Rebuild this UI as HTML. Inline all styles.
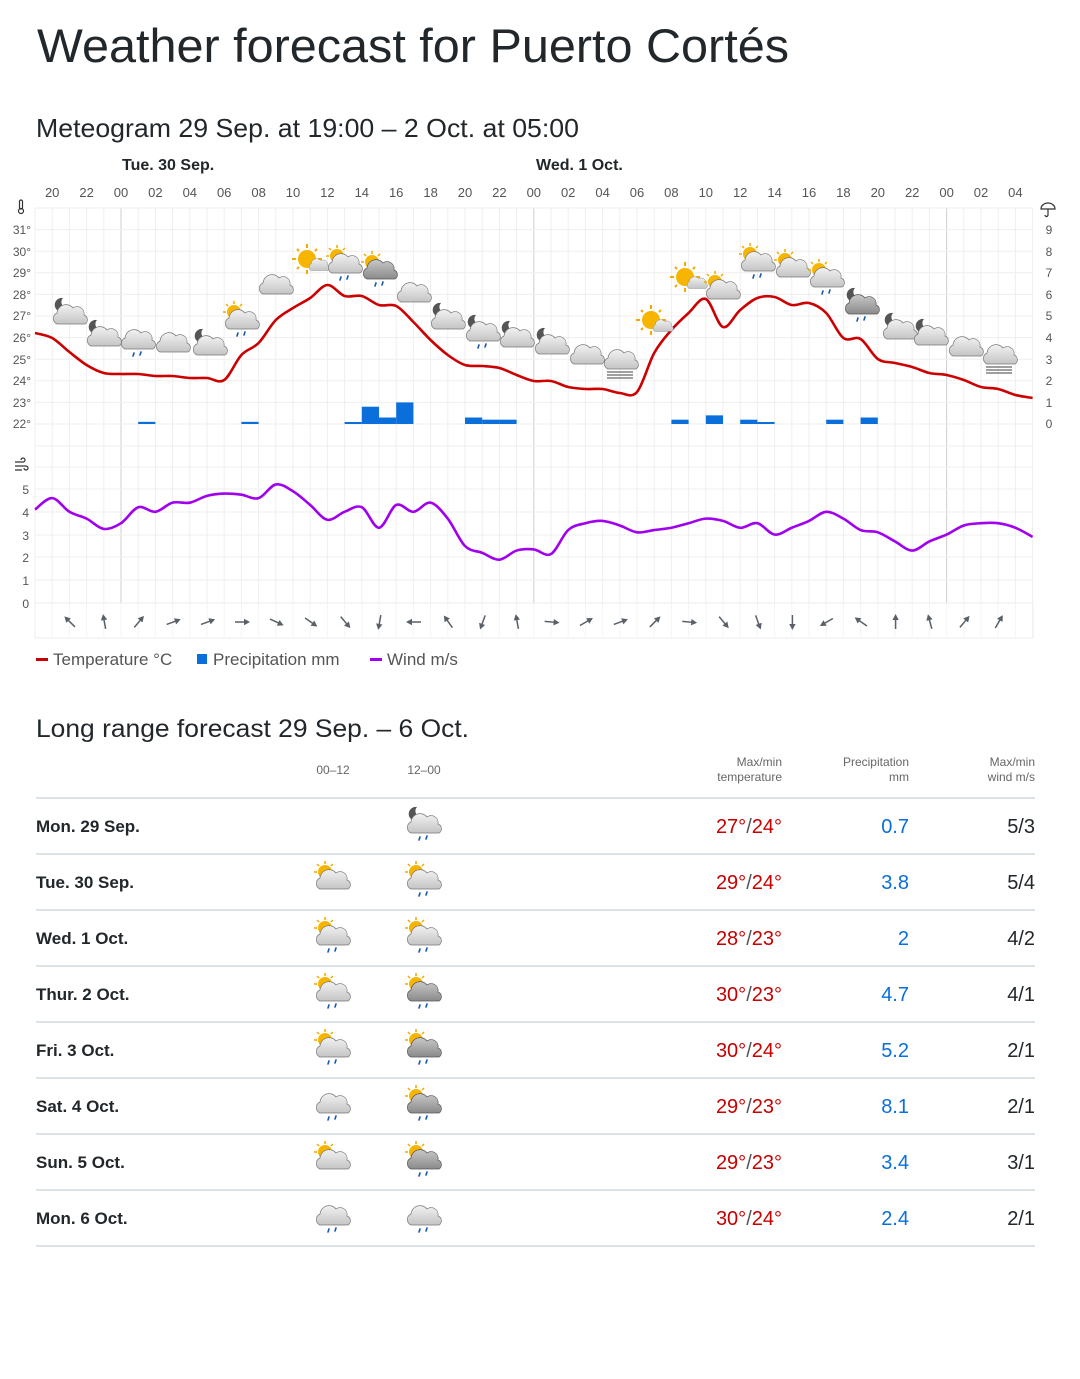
<!DOCTYPE html>
<html><head><meta charset="utf-8"><style>
html,body{margin:0;padding:0;background:#fff;}
svg{display:block;font-family:"Liberation Sans",sans-serif;}
</style></head><body>
<svg id="s" width="1080" height="1379" viewBox="0 0 1080 1379" xmlns="http://www.w3.org/2000/svg">
<defs>
<linearGradient id="cg" x1="0" y1="0" x2="0" y2="1"><stop offset="0" stop-color="#f2f2f2"/><stop offset="1" stop-color="#c4c4c4"/></linearGradient>
<linearGradient id="cgd" x1="0" y1="0" x2="0" y2="1"><stop offset="0" stop-color="#c8c8c8"/><stop offset="1" stop-color="#8a8a8a"/></linearGradient>
<g id="cl"><path d="M-13,9 a6,6 0 0 1 0,-11 a9,9 0 0 1 16,-5 a7,7 0 0 1 11,7 a5,5 0 0 1 1,9 z" fill="url(#cg)" stroke="#777" stroke-width="0.7"/></g>
<g id="cld"><path d="M-13,9 a6,6 0 0 1 0,-11 a9,9 0 0 1 16,-5 a7,7 0 0 1 11,7 a5,5 0 0 1 1,9 z" fill="url(#cgd)" stroke="#555" stroke-width="0.7"/></g>
<g id="sun"><circle r="7" fill="#f7b500"/><g stroke="#f2a900" stroke-width="1.5"><line x1="0" y1="-11" x2="0" y2="-8"/><line x1="-8" y1="-8" x2="-6" y2="-6"/><line x1="8" y1="-8" x2="6" y2="-6"/><line x1="-11" y1="0" x2="-8" y2="0"/></g></g>
<g id="bsun"><circle r="9" fill="#f7b500"/><g stroke="#f2a900" stroke-width="2"><line x1="0" y1="-15" x2="0" y2="-11"/><line x1="0" y1="15" x2="0" y2="11"/><line x1="-15" y1="0" x2="-11" y2="0"/><line x1="15" y1="0" x2="11" y2="0"/><line x1="-10" y1="-10" x2="-8" y2="-8"/><line x1="10" y1="-10" x2="8" y2="-8"/><line x1="-10" y1="10" x2="-8" y2="8"/><line x1="10" y1="10" x2="8" y2="8"/></g></g>
<g id="moon"><path d="M2,-8 a7,7 0 1 0 5,10 a6,6 0 0 1 -5,-10z" fill="#555"/></g>
<g id="rain" stroke="#1a55b0" stroke-width="1.6" stroke-linecap="round"><line x1="-4" y1="13" x2="-5" y2="16"/><line x1="3" y1="12" x2="2" y2="15"/></g>
<g id="fog" stroke="#666" stroke-width="1.2"><line x1="-14" y1="12" x2="12" y2="12"/><line x1="-14" y1="15" x2="12" y2="15"/><line x1="-14" y1="18" x2="12" y2="18"/></g>
<g id="arr"><line x1="0" y1="7" x2="0" y2="-5" stroke="#5a6068" stroke-width="1.5"/><path d="M0,-8 L-3.2,-2 L3.2,-2z" fill="#5a6068"/></g>
</defs>

<text x="37" y="62" font-size="47" fill="#21272b" textLength="752" lengthAdjust="spacingAndGlyphs">Weather forecast for Puerto Cortés</text>
<text x="36" y="137" font-size="26" fill="#21272b" textLength="543" lengthAdjust="spacingAndGlyphs">Meteogram 29 Sep. at 19:00 – 2 Oct. at 05:00</text>

<text x="122" y="170" font-size="16" font-weight="bold" fill="#21272b">Tue. 30 Sep.</text>
<text x="536" y="170" font-size="16" font-weight="bold" fill="#21272b">Wed. 1 Oct.</text>

<g id="grid"></g>

<g font-size="13" fill="#555" text-anchor="middle">
<text x="52.2" y="197">20</text><text x="86.6" y="197">22</text><text x="121" y="197">00</text><text x="155.4" y="197">02</text><text x="189.8" y="197">04</text><text x="224.2" y="197">06</text><text x="258.6" y="197">08</text><text x="293" y="197">10</text><text x="327.4" y="197">12</text><text x="361.8" y="197">14</text><text x="396.2" y="197">16</text><text x="430.6" y="197">18</text><text x="465" y="197">20</text><text x="499.4" y="197">22</text><text x="533.8" y="197">00</text><text x="568.2" y="197">02</text><text x="602.6" y="197">04</text><text x="637" y="197">06</text><text x="671.4" y="197">08</text><text x="705.8" y="197">10</text><text x="740.2" y="197">12</text><text x="774.6" y="197">14</text><text x="809" y="197">16</text><text x="843.4" y="197">18</text><text x="877.8" y="197">20</text><text x="912.2" y="197">22</text><text x="946.6" y="197">00</text><text x="981" y="197">02</text><text x="1015.4" y="197">04</text>
</g>
<g font-size="12" fill="#555" text-anchor="end">
<text x="31" y="234">31°</text><text x="31" y="256">30°</text><text x="31" y="277">29°</text><text x="31" y="299">28°</text><text x="31" y="320">27°</text><text x="31" y="342">26°</text><text x="31" y="364">25°</text><text x="31" y="385">24°</text><text x="31" y="407">23°</text><text x="31" y="428">22°</text>
<text x="29" y="494">5</text><text x="29" y="517">4</text><text x="29" y="540">3</text><text x="29" y="562">2</text><text x="29" y="585">1</text><text x="29" y="608">0</text>
</g>
<g font-size="12" fill="#555" text-anchor="middle">
<text x="1049" y="234">9</text><text x="1049" y="256">8</text><text x="1049" y="277">7</text><text x="1049" y="299">6</text><text x="1049" y="320">5</text><text x="1049" y="342">4</text><text x="1049" y="364">3</text><text x="1049" y="385">2</text><text x="1049" y="407">1</text><text x="1049" y="428">0</text>
</g>
<g stroke="#333" fill="none" stroke-width="1.2">
<rect x="19.5" y="200" width="3" height="9" rx="1.5"/><circle cx="21" cy="211" r="2.5"/>
<path d="M1041,209 a7,6 0 0 1 14,0 z M1048,209 v6 a1.5,1.5 0 0 1 -3,0"/>
<path d="M15,462 h8 a2,2 0 1 0 -2,-2 M15,466 h11 a2,2 0 1 1 -2,2 M15,470 h7"/>
</g>

<g id="series"></g>

<rect x="36" y="658" width="12" height="3" fill="#c60000"/>
<text x="53" y="665" font-size="17" fill="#555">Temperature °C</text>
<rect x="197" y="654" width="10" height="10" fill="#0a6edb"/>
<text x="213" y="665" font-size="17" fill="#555">Precipitation mm</text>
<rect x="370" y="658" width="12" height="3" fill="#a000ee"/>
<text x="387" y="665" font-size="17" fill="#555">Wind m/s</text>

<text x="36" y="737" font-size="25" fill="#21272b" textLength="433" lengthAdjust="spacingAndGlyphs">Long range forecast 29 Sep. – 6 Oct.</text>
<g font-size="12" fill="#666">
<text x="333" y="774" text-anchor="middle">00–12</text>
<text x="424" y="774" text-anchor="middle">12–00</text>
<text x="782" y="766" text-anchor="end">Max/min</text><text x="782" y="781" text-anchor="end">temperature</text>
<text x="909" y="766" text-anchor="end">Precipitation</text><text x="909" y="781" text-anchor="end">mm</text>
<text x="1035" y="766" text-anchor="end">Max/min</text><text x="1035" y="781" text-anchor="end">wind m/s</text>
</g>
<g stroke="#dde2e6" stroke-width="2">
<line x1="36" y1="798" x2="1035" y2="798"/><line x1="36" y1="854" x2="1035" y2="854"/><line x1="36" y1="910" x2="1035" y2="910"/><line x1="36" y1="966" x2="1035" y2="966"/><line x1="36" y1="1022" x2="1035" y2="1022"/><line x1="36" y1="1078" x2="1035" y2="1078"/><line x1="36" y1="1134" x2="1035" y2="1134"/><line x1="36" y1="1190" x2="1035" y2="1190"/><line x1="36" y1="1246" x2="1035" y2="1246"/>
</g>
<g font-size="17" font-weight="bold" fill="#21272b">
<text x="36" y="832">Mon. 29 Sep.</text><text x="36" y="888">Tue. 30 Sep.</text><text x="36" y="944">Wed. 1 Oct.</text><text x="36" y="1000">Thur. 2 Oct.</text><text x="36" y="1056">Fri. 3 Oct.</text><text x="36" y="1112">Sat. 4 Oct.</text><text x="36" y="1168">Sun. 5 Oct.</text><text x="36" y="1224">Mon. 6 Oct.</text>
</g>
<g font-size="20" text-anchor="end">
<g fill="#c60000">
<text x="782" y="833">27°<tspan fill="#555">/</tspan>24°</text><text x="782" y="889">29°<tspan fill="#555">/</tspan>24°</text><text x="782" y="945">28°<tspan fill="#555">/</tspan>23°</text><text x="782" y="1001">30°<tspan fill="#555">/</tspan>23°</text><text x="782" y="1057">30°<tspan fill="#555">/</tspan>24°</text><text x="782" y="1113">29°<tspan fill="#555">/</tspan>23°</text><text x="782" y="1169">29°<tspan fill="#555">/</tspan>23°</text><text x="782" y="1225">30°<tspan fill="#555">/</tspan>24°</text>
</g>
<g fill="#0a6edb">
<text x="909" y="833">0.7</text><text x="909" y="889">3.8</text><text x="909" y="945">2</text><text x="909" y="1001">4.7</text><text x="909" y="1057">5.2</text><text x="909" y="1113">8.1</text><text x="909" y="1169">3.4</text><text x="909" y="1225">2.4</text>
</g>
<g fill="#21272b">
<text x="1035" y="833">5/3</text><text x="1035" y="889">5/4</text><text x="1035" y="945">4/2</text><text x="1035" y="1001">4/1</text><text x="1035" y="1057">2/1</text><text x="1035" y="1113">2/1</text><text x="1035" y="1169">3/1</text><text x="1035" y="1225">2/1</text>
</g>
</g>
<g id="ticons"></g>
</svg>
<script>
var NS="http://www.w3.org/2000/svg";
function el(p,t,a){var e=document.createElementNS(NS,t);for(var k in a)e.setAttribute(k,a[k]);p.appendChild(e);return e;}
function X(t){return 35+17.2*t;}
var g=document.getElementById('grid');
for(var t=0;t<=58;t++){var day=(t==5||t==29||t==53);
 el(g,'line',{x1:X(t),y1:208,x2:X(t),y2:603,stroke:day?'#cfcfcf':'#efefef','stroke-width':1});
 el(g,'line',{x1:X(t),y1:603,x2:X(t),y2:638,stroke:'#f5f5f5','stroke-width':1});}
for(var i=0;i<=10;i++){var y=208+i*21.6;el(g,'line',{x1:35,y1:y,x2:1033,y2:y,stroke:'#efefef'});}
el(g,'line',{x1:35,y1:446,x2:1033,y2:446,stroke:'#efefef'});
[467,489,512,535,557,580,603].forEach(function(y){el(g,'line',{x1:35,y1:y,x2:1033,y2:y,stroke:'#efefef'});});
el(g,'rect',{x:35,y:603,width:998,height:35,fill:'none',stroke:'#eee'});
var s=document.getElementById('series');
var P=[[6,0.1],[12,0.1],[18,0.05],[19,0.8],[20,0.3],[21,1.0],[25,0.3],[26,0.2],[27,0.2],[37,0.2],[39,0.4],[41,0.2],[42,0.05],[46,0.2],[48,0.3]];
P.forEach(function(p){var h=Math.max(2,p[1]*21.6);el(s,'rect',{x:X(p[0]),y:424-h,width:17.2,height:h,fill:'#0a6edb'});});
function spline(pts){var d='M'+pts[0][0]+','+pts[0][1];for(var i=0;i<pts.length-1;i++){var p0=pts[i-1]||pts[i],p1=pts[i],p2=pts[i+1],p3=pts[i+2]||p2;
 d+=' C'+(p1[0]+(p2[0]-p0[0])/6)+','+(p1[1]+(p2[1]-p0[1])/6)+' '+(p2[0]-(p3[0]-p1[0])/6)+','+(p2[1]-(p3[1]-p1[1])/6)+' '+p2[0]+','+p2[1];}return d;}
var T=[333,338,352,365,373,374,374,376,376,378,378,380,355,343,320,308,298,285,296,296,305,306,322,340,355,365,366,368,375,381,381,387,389,389,393,392,353,330,313,299,327,310,298,297,305,303,313,338,339,359,363,367,373,375,380,387,389,395,398];
el(s,'path',{d:spline(T.map(function(y,i){return [X(i),y];})),fill:'none',stroke:'#cc0000','stroke-width':2.6,'stroke-linejoin':'round'});
var W=[4.1,4.6,4.0,3.7,3.25,3.5,4.2,4.0,4.4,4.4,4.7,4.8,4.75,4.6,5.2,4.9,4.3,3.65,4.0,4.2,3.3,4.3,4.0,4.4,3.7,2.5,2.2,1.9,2.3,2.35,2.15,3.2,3.5,3.6,3.4,3.1,3.2,3.3,3.5,3.7,3.6,3.3,3.5,3.0,3.3,3.6,4.0,3.7,3.2,3.1,2.7,2.3,2.7,3.0,3.4,3.5,3.5,3.3,2.9];
el(s,'path',{d:spline(W.map(function(w,i){return [X(i),603-22.8*w];})),fill:'none',stroke:'#a000ee','stroke-width':2.6,'stroke-linejoin':'round'});
var A=[-45,-10,40,70,70,90,115,125,140,190,270,-35,200,-10,95,60,70,45,95,140,160,180,240,-55,0,-15,40,30];
A.forEach(function(a,i){el(s,'use',{href:'#arr',transform:'translate('+(70+34.4*i)+',622) rotate('+a+')'});});
function icon(p,x,y,k){var gg=el(p,'g',{transform:'translate('+x+','+y+')'});
 if(k.indexOf('S')>=0){el(gg,'use',{href:'#bsun',transform:'translate(-5,-3)'});el(gg,'use',{href:'#cl',transform:'translate(7,3) scale(0.6)'});return;}
 if(k.indexOf('s')>=0)el(gg,'use',{href:'#sun',transform:'translate(-8,-8)'});
 if(k.indexOf('n')>=0)el(gg,'use',{href:'#moon',transform:'translate(-9,-9)'});
 el(gg,'use',{href:k.indexOf('d')>=0?'#cld':'#cl'});
 if(k.indexOf('r')>=0)el(gg,'use',{href:'#rain'});
 if(k.indexOf('f')>=0)el(gg,'use',{href:'#fog'});}
var I=[[70,315,'n'],[104,337,'n'],[138,340,'cr'],[173,343,'c'],[210,346,'n'],[242,320,'sr'],[276,285,'c'],[312,262,'S'],[345,264,'sr'],[380,270,'sdr'],[414,293,'c'],[448,320,'n'],[483,332,'nr'],[517,338,'n'],[552,345,'n'],[587,355,'c'],[621,360,'cf'],[656,323,'S'],[690,280,'S'],[723,290,'s'],[758,262,'sr'],[793,268,'s'],[827,278,'sr'],[862,305,'ndr'],[900,330,'n'],[931,336,'n'],[966,347,'c'],[1000,355,'cf']];
I.forEach(function(a){icon(s,a[0],a[1],a[2]);});
var ti=document.getElementById('ticons');
var R=[[null,'nr'],['s','sr'],['sr','sr'],['sr','sdr'],['sr','sdr'],['r','sdr'],['s','sdr'],['r','r']];
R.forEach(function(r,i){var y=824+56*i;if(r[0])icon(ti,333,y,r[0]);icon(ti,424,y,r[1]);});
</script>
</body></html>
